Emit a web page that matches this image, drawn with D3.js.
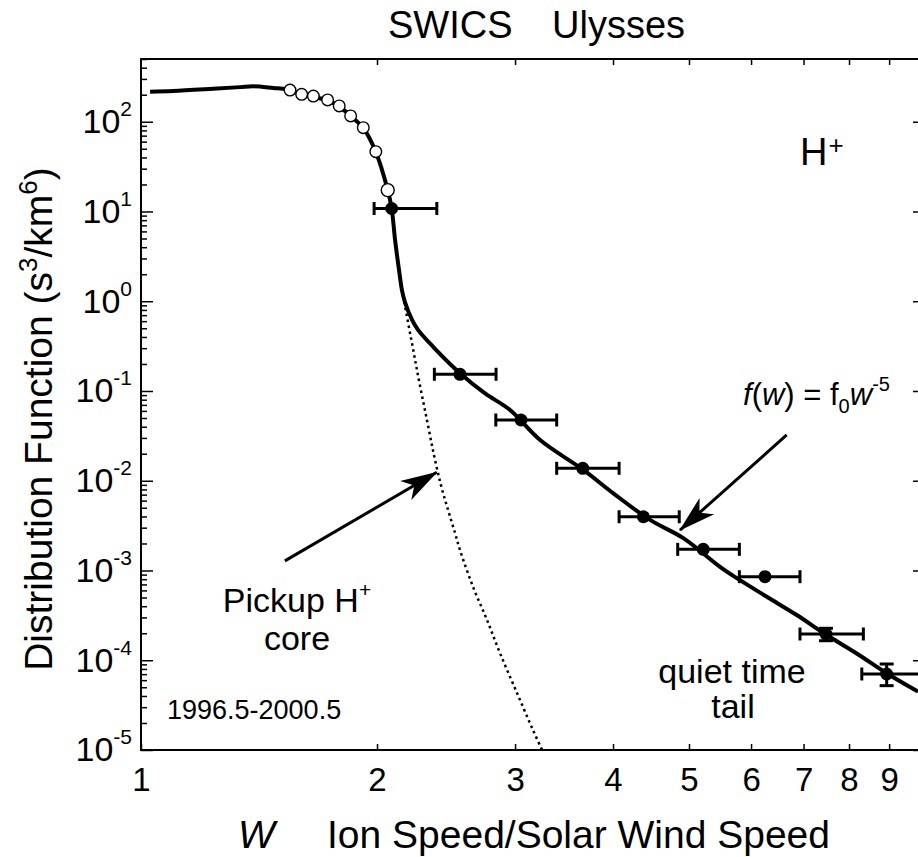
<!DOCTYPE html>
<html>
<head>
<meta charset="utf-8">
<title>SWICS Ulysses - H+ distribution function</title>
<script src="https://cdn.jsdelivr.net/npm/d3@7"></script>
<style>
	html, body { margin: 0; padding: 0; background: #fff; }
	svg { display: block; font-family: "Liberation Sans", Arial, Helvetica, sans-serif; }
	.axis path { display: none; }
	.axis line { stroke: #000; stroke-width: 1.5; }
</style>
</head>
<body>
<svg id="dist-chart" width="918" height="857"></svg>
<script>
// values: w = ion speed / solar wind speed, f in s^3/km^6

// solid line (measured spectrum + fit)
var modelW = [1.027, 1.099, 1.236, 1.338, 1.391, 1.475, 1.535, 1.603, 1.659, 1.730, 1.790, 1.851, 1.921, 1.993, 2.064,
	2.088, 2.109, 2.134, 2.152, 2.171, 2.217, 2.256, 2.360, 2.552, 2.747, 2.956, 3.229, 3.666, 4.004,
	4.459, 4.917, 5.477, 5.808, 6.283, 6.861, 7.491, 8.184, 8.935, 9.797];
var modelF = [216, 220, 233, 243, 248, 238, 230, 202, 190, 172, 148, 116, 85, 46, 17.3,
	10.8, 4.8, 2.2, 1.33, 0.98, 0.62, 0.48, 0.309, 0.158, 0.094, 0.0614, 0.0284, 0.0132, 0.00724,
	0.00366, 0.00229, 0.00110, 7.8e-4, 5.1e-4, 3.19e-4, 1.91e-4, 1.19e-4, 7.16e-5, 4.47e-5];

// dotted line: pickup H+ core
var coreW = [2.152, 2.210, 2.262, 2.316, 2.364, 2.413, 2.464, 2.515, 2.552, 2.652, 2.763, 2.870, 3.017, 3.162, 3.248];
var coreF = [1.33, 0.389, 0.132, 0.0475, 0.0194, 0.00896, 0.00472, 0.00262, 0.00169, 6.55e-4, 2.81e-4, 1.20e-4, 4.32e-5, 1.67e-5, 1.0e-5];

// open circles
var swW = [1.549, 1.603, 1.659, 1.730, 1.790, 1.851, 1.921, 1.993, 2.064];
var swF = [225, 202, 193, 175, 150, 116, 85.8, 46.4, 17.3];

// filled points with error bars (quiet time tail)
var tailW = [2.088, 2.552, 3.053, 3.660, 4.373, 5.214, 6.251, 7.476, 8.935];
var tailF = [10.8, 0.1535, 0.0475, 0.01376, 0.00397, 0.00172, 8.53e-4, 1.96e-4, 7.03e-5];
var tailWLo = [1.983, 2.367, 2.835, 3.390, 4.072, 4.837, 5.797, 6.927, 8.306];
var tailWHi = [2.384, 2.837, 3.390, 4.072, 4.859, 5.797, 6.927, 8.344, 9.95];
var tailFLo = [null, null, null, null, null, null, null, 1.65e-4, 5.21e-5];
var tailFHi = [null, null, null, null, null, null, null, 2.27e-4, 9.08e-5];

// axes
var xTickValues = [1, 2, 3, 4, 5, 6, 7, 8, 9];
var xTickLabels = ['1', '2', '3', '4', '5', '6', '7', '8', '9'];
var yTickExponents = [-5, -4, -3, -2, -1, 0, 1, 2];

// arrows [from, to] in data units
var coreArrow = [[1.526, 1.28e-3], [2.384, 0.01242]];
var tailArrow = [[6.662, 0.0324], [4.870, 2.82e-3]];

window.app = window.app || {};

app.distChart = (function() {

	'use strict';

	var createChart = function() {
		var svg = d3.select('#dist-chart'),
			left = 141,
			right = 925,
			top = 59,
			bottom = 750;

		var xScale = d3.scaleLog()
				.domain([1, 10])
				.range([left, right]);

		var yScale = d3.scaleLog()
				.domain([1e-5, 500])
				.range([bottom, top]);

		var yMajor = yTickExponents.map(function(e) { return Math.pow(10, e); }),
			yMinor = yScale.ticks().filter(function(v) {
				var l = Math.log10(v);
				return Math.abs(l - Math.round(l)) > 1e-6;
			});

		var fontFamily = '"Liberation Sans", Arial, Helvetica, sans-serif';

		svg.append('defs').append('clipPath')
			.attr('id', 'plot-clip')
			.append('rect')
			.attr('x', left)
			.attr('y', top)
			.attr('width', right - left)
			.attr('height', bottom - top);

		svg.select('defs').append('marker')
			.attr('id', 'arrow-head')
			.attr('markerUnits', 'userSpaceOnUse')
			.attr('viewBox', '-40 -14 42 28')
			.attr('markerWidth', 42)
			.attr('markerHeight', 28)
			.attr('refX', 0)
			.attr('refY', 0)
			.attr('orient', 'auto')
			.append('path')
			.attr('d', 'M1,0 L-36,-11 L-26,0 L-36,11 Z')
			.attr('fill', '#000');

		// axes: ticks pointing inward, labels on bottom and left only
		var xAxisBottom = d3.axisBottom(xScale)
				.tickValues(xTickValues)
				.tickSize(-6)
				.tickPadding(18)
				.tickFormat(function(d, i) { return xTickLabels[i]; });

		var xAxisTop = d3.axisTop(xScale)
				.tickValues(xTickValues.slice(1))
				.tickSize(-6)
				.tickFormat('');

		var bottomAxis = svg.append('g')
			.attr('class', 'axis')
			.attr('transform', 'translate(0,' + bottom + ')')
			.call(xAxisBottom);

		bottomAxis.selectAll('text')
			.attr('font-size', 33)
			.attr('font-family', fontFamily)
			.attr('fill', '#000');

		svg.append('g')
			.attr('class', 'axis')
			.attr('transform', 'translate(0,' + top + ')')
			.call(xAxisTop);

		var leftAxis = svg.append('g')
			.attr('class', 'axis')
			.attr('transform', 'translate(' + left + ',0)')
			.call(d3.axisLeft(yScale).tickValues(yMajor).tickSize(-12).tickPadding(9));

		leftAxis.selectAll('.tick text').each(function(d, i) {
			var t = d3.select(this)
				.text('')
				.attr('font-size', 34)
				.attr('font-family', fontFamily)
				.attr('fill', '#000');
			t.append('tspan').text('10');
			t.append('tspan')
				.attr('font-size', 21)
				.attr('dy', -17)
				.text(String(yTickExponents[i]));
		});

		svg.append('g')
			.attr('class', 'axis')
			.attr('transform', 'translate(' + left + ',0)')
			.call(d3.axisLeft(yScale).tickValues(yMinor).tickSize(-6).tickFormat(''));

		svg.append('g')
			.attr('class', 'axis')
			.attr('transform', 'translate(' + right + ',0)')
			.call(d3.axisRight(yScale).tickValues(yMajor).tickSize(-12).tickFormat(''));

		svg.append('g')
			.attr('class', 'axis')
			.attr('transform', 'translate(' + right + ',0)')
			.call(d3.axisRight(yScale).tickValues(yMinor).tickSize(-6).tickFormat(''));

		// frame
		svg.append('rect')
			.attr('x', left)
			.attr('y', top)
			.attr('width', right - left)
			.attr('height', bottom - top)
			.attr('fill', 'none')
			.attr('stroke', '#000')
			.attr('stroke-width', 2);

		var plot = svg.append('g').attr('clip-path', 'url(#plot-clip)');

		var line = d3.line()
				.x(function(d) { return xScale(d[0]); })
				.y(function(d) { return yScale(d[1]); })
				.curve(d3.curveCatmullRom.alpha(0.5));

		// dotted core
		plot.append('path')
			.datum(d3.zip(coreW, coreF))
			.attr('d', line)
			.attr('fill', 'none')
			.attr('stroke', '#000')
			.attr('stroke-width', 2.5)
			.attr('stroke-dasharray', '2.5,3.5');

		// solid model line
		plot.append('path')
			.datum(d3.zip(modelW, modelF))
			.attr('d', line)
			.attr('fill', 'none')
			.attr('stroke', '#000')
			.attr('stroke-width', 4)
			.attr('stroke-linejoin', 'round');

		// error bars
		var tail = tailW.map(function(w, i) {
			return { w: w, f: tailF[i], lo: tailWLo[i], hi: tailWHi[i], fLo: tailFLo[i], fHi: tailFHi[i] };
		});

		var bars = plot.append('g')
			.attr('stroke', '#000')
			.attr('stroke-width', 3)
			.selectAll('g')
			.data(tail)
			.enter()
			.append('g');

		bars.append('line')
			.attr('x1', function(d) { return xScale(d.lo); })
			.attr('x2', function(d) { return xScale(d.hi); })
			.attr('y1', function(d) { return yScale(d.f); })
			.attr('y2', function(d) { return yScale(d.f); });

		bars.append('line')
			.attr('x1', function(d) { return xScale(d.lo); })
			.attr('x2', function(d) { return xScale(d.lo); })
			.attr('y1', function(d) { return yScale(d.f) - 6.5; })
			.attr('y2', function(d) { return yScale(d.f) + 6.5; });

		bars.append('line')
			.attr('x1', function(d) { return xScale(d.hi); })
			.attr('x2', function(d) { return xScale(d.hi); })
			.attr('y1', function(d) { return yScale(d.f) - 6.5; })
			.attr('y2', function(d) { return yScale(d.f) + 6.5; });

		var vBars = bars.filter(function(d) { return d.fLo !== null; });

		vBars.append('line')
			.attr('x1', function(d) { return xScale(d.w); })
			.attr('x2', function(d) { return xScale(d.w); })
			.attr('y1', function(d) { return yScale(d.fLo); })
			.attr('y2', function(d) { return yScale(d.fHi); });

		['fLo', 'fHi'].forEach(function(k) {
			vBars.append('line')
				.attr('x1', function(d) { return xScale(d.w) - 7; })
				.attr('x2', function(d) { return xScale(d.w) + 7; })
				.attr('y1', function(d) { return yScale(d[k]); })
				.attr('y2', function(d) { return yScale(d[k]); });
		});

		plot.append('g')
			.selectAll('circle')
			.data(tail)
			.enter()
			.append('circle')
			.attr('cx', function(d) { return xScale(d.w); })
			.attr('cy', function(d) { return yScale(d.f); })
			.attr('r', 6.5)
			.attr('fill', '#000');

		// open circles
		plot.append('g')
			.selectAll('circle')
			.data(d3.zip(swW, swF))
			.enter()
			.append('circle')
			.attr('cx', function(d) { return xScale(d[0]); })
			.attr('cy', function(d) { return yScale(d[1]); })
			.attr('r', function(d, i) { return i === swW.length - 1 ? 6.5 : 5.8; })
			.attr('fill', '#fff')
			.attr('stroke', '#000')
			.attr('stroke-width', 1.4);

		// arrows
		[coreArrow, tailArrow].forEach(function(a) {
			svg.append('line')
				.attr('x1', xScale(a[0][0]))
				.attr('y1', yScale(a[0][1]))
				.attr('x2', xScale(a[1][0]))
				.attr('y2', yScale(a[1][1]))
				.attr('stroke', '#000')
				.attr('stroke-width', 3)
				.attr('marker-end', 'url(#arrow-head)');
		});

		// texts
		var title = svg.append('text')
			.attr('y', 38)
			.attr('font-size', 38)
			.attr('fill', '#000');
		title.append('tspan').attr('x', 388).text('SWICS');
		title.append('tspan').attr('x', 552).text('Ulysses');

		var ion = svg.append('text')
			.attr('x', 800)
			.attr('y', 165)
			.attr('font-size', 38);
		ion.append('tspan').text('H');
		ion.append('tspan').attr('font-size', 26).attr('dy', -11).attr('dx', 1).text('+');

		var pickup = svg.append('text')
			.attr('x', 297)
			.attr('y', 612)
			.attr('font-size', 34)
			.attr('text-anchor', 'middle');
		pickup.append('tspan').text('Pickup H');
		pickup.append('tspan').attr('font-size', 21).attr('dy', -15).text('+');

		svg.append('text')
			.attr('x', 297)
			.attr('y', 650)
			.attr('font-size', 34)
			.attr('text-anchor', 'middle')
			.text('core');

		svg.append('text')
			.attr('x', 167)
			.attr('y', 719)
			.attr('font-size', 27)
			.text('1996.5-2000.5');

		svg.append('text')
			.attr('x', 732)
			.attr('y', 683)
			.attr('font-size', 34)
			.attr('text-anchor', 'middle')
			.text('quiet time');

		svg.append('text')
			.attr('x', 733)
			.attr('y', 718)
			.attr('font-size', 34)
			.attr('text-anchor', 'middle')
			.text('tail');

		var formula = svg.append('text')
			.attr('x', 743)
			.attr('y', 405)
			.attr('font-size', 31);
		formula.append('tspan').attr('font-style', 'italic').text('f');
		formula.append('tspan').text('(');
		formula.append('tspan').attr('font-style', 'italic').text('w');
		formula.append('tspan').text(') = f');
		formula.append('tspan').attr('font-size', 20).attr('dy', 8).text('0');
		formula.append('tspan').attr('font-style', 'italic').attr('dy', -8).text('w');
		formula.append('tspan').attr('font-size', 20).attr('dy', -14).text('-5');

		// axis titles
		var xLabel = svg.append('text')
			.attr('y', 848)
			.attr('font-size', 39);
		xLabel.append('tspan').attr('x', 238).attr('font-style', 'italic').text('W');
		xLabel.append('tspan').attr('x', 327).text('Ion Speed/Solar Wind Speed');

		var yLabel = svg.append('text')
			.attr('transform', 'translate(52,419) rotate(-90)')
			.attr('text-anchor', 'middle')
			.attr('font-size', 39);
		yLabel.append('tspan').text('Distribution Function (s');
		yLabel.append('tspan').attr('font-size', 26).attr('dy', -15).text('3');
		yLabel.append('tspan').attr('dy', 15).text('/km');
		yLabel.append('tspan').attr('font-size', 26).attr('dy', -15).text('6');
		yLabel.append('tspan').attr('dy', 15).text(')');
	};

	var init = function() {
		createChart();
	};

	return {
		init: init
	};

})();

app.distChart.init();
</script>
</body>
</html>
